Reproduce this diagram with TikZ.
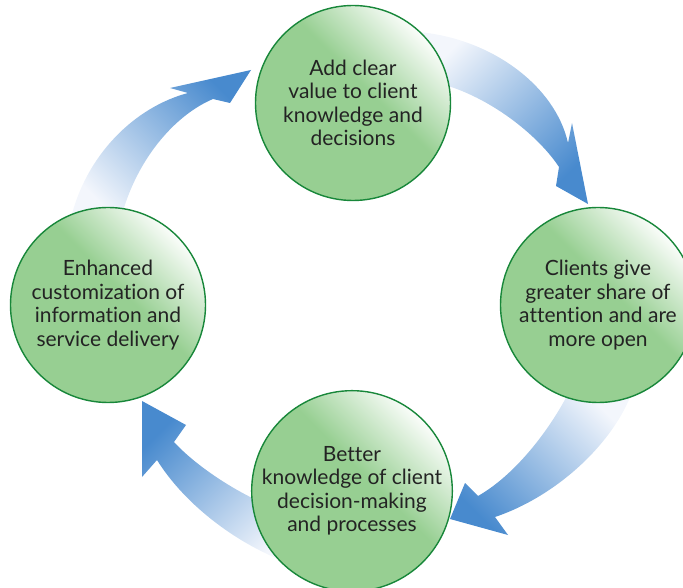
\documentclass[tikz,border=0pt]{standalone}
\usepackage{fontspec}
\setmainfont{Lato}[Ligatures=NoCommon]
\definecolor{stagegreen}{RGB}{151,207,146}
\definecolor{stageedge}{RGB}{24,135,58}
\definecolor{flowblue}{RGB}{72,138,206}
\definecolor{flowpale}{RGB}{243,246,252}
\definecolor{inkgray}{RGB}{35,35,35}
\pgfdeclareverticalshading{stageglow}{100bp}{color(0bp)=(stagegreen); color(55bp)=(stagegreen); color(76bp)=(white); color(100bp)=(white)}
\begin{document}
\begin{tikzpicture}
[ x=1pt, y=1pt
, stage/.style={circle, minimum size=195pt, inner sep=0pt, draw=stageedge, line width=1.4pt, shade, shading=stageglow, shading angle=-45, align=center, text=inkgray, font=\fontsize{21}{23.5}\selectfont}
, flow/.style={top color=flowblue, bottom color=flowpale}
]
\useasboundingbox (0,0) rectangle (683,587);
% Arrows (tails hidden under the circles):
\shade [flow, shading angle=-135] (418,555) .. controls (490,549) and (555,502) .. (568,444) -- (572,464) -- (588,383) -- (556,401) -- (559,420) .. controls (540,449) and (495,487) .. (445,502) -- cycle;
\shade [flow, shading angle=135] (632,195) .. controls (615,147) and (560,92) .. (495,70) -- (508,52) -- (450,68) -- (465,104) -- (478,91) .. controls (515,112) and (550,157) .. (570,197) -- cycle;
\shade [flow, shading angle=45] (300,20) .. controls (240,39) and (185,82) .. (157,127) -- (142,110) -- (142,186) -- (186,162) -- (174,145) .. controls (195,122) and (235,95) .. (270,81) -- cycle;
\shade [flow, shading angle=-45] (70,365) .. controls (85,432) and (135,480) .. (188,494) -- (170,499) -- (251,517) -- (230,484) -- (213,488) .. controls (175,472) and (135,427) .. (120,365) -- cycle;
% Stages:
\node (value) [stage] at (353,484) {Add clear\\value to client\\knowledge and\\decisions};
\node (open) [stage] at (598,282) {Clients give\\greater share of\\attention and are\\more open};
\node (knowledge) [stage] at (352,96) {Better\\knowledge of client\\decision-making\\and processes};
\node (custom) [stage] at (108,282) {Enhanced\\customization of\\information and\\service delivery};
\end{tikzpicture}
\end{document}
